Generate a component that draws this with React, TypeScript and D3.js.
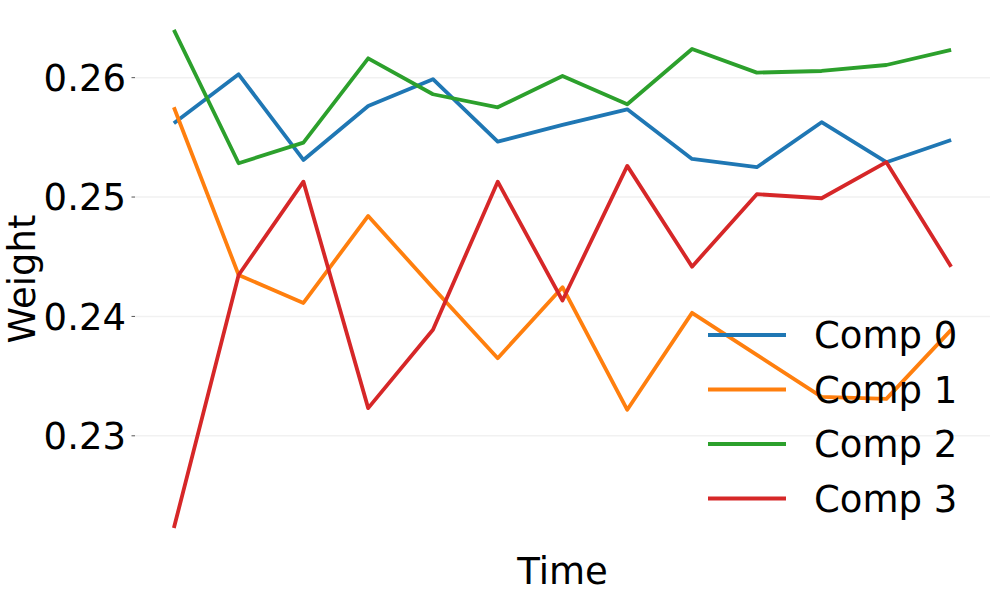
import React from "react";
import * as d3 from "d3";

// values, time steps 0..12
const timeSteps = d3.range(13);
const comp0 = [0.25618, 0.26028, 0.25311, 0.25763, 0.25987, 0.25464, 0.25604, 0.25735, 0.25319, 0.2525, 0.25627, 0.25292, 0.25478];
const comp1 = [0.25752, 0.24347, 0.24113, 0.24842, 0.2424, 0.2365, 0.24245, 0.23218, 0.2403, 0.23678, 0.23326, 0.23309, 0.23887];
const comp2 = [0.264, 0.25283, 0.25456, 0.26162, 0.25861, 0.25752, 0.26014, 0.25777, 0.2624, 0.26042, 0.26056, 0.26106, 0.26232];
const comp3 = [0.22227, 0.24347, 0.25129, 0.23232, 0.23888, 0.25129, 0.24133, 0.25261, 0.24417, 0.25024, 0.2499, 0.25292, 0.24417];
const seriesNames = ["Comp 0", "Comp 1", "Comp 2", "Comp 3"];
const yTicks = [0.23, 0.24, 0.25, 0.26];
const colors = ["#1f77b4", "#ff7f0e", "#2ca02c", "#d62728"];

const App = () => {
  const width = 996;
  const height = 598;
  const margin = { top: 5, right: 6, bottom: 45, left: 135 };
  const font = "DejaVu Sans, sans-serif";
  const fs = 37;

  const series = [comp0, comp1, comp2, comp3];
  const all = series.flat();
  const [yMin, yMax] = d3.extent(all) as [number, number];
  const yPad = (yMax - yMin) * 0.05;
  const xPad = (timeSteps.length - 1) * 0.05;

  const x = d3
    .scaleLinear()
    .domain([-xPad, timeSteps.length - 1 + xPad])
    .range([margin.left, width - margin.right]);
  const y = d3
    .scaleLinear()
    .domain([yMin - yPad, yMax + yPad])
    .range([height - margin.bottom, margin.top]);

  const line = d3
    .line<number>()
    .x((_, i) => x(timeSteps[i]))
    .y((d) => y(d));

  return (
    <svg
      width={width}
      height={height}
      style={{ position: "absolute", left: 0, top: 0, background: "#fff" }}
      fontFamily={font}
    >
      {/* grid + y ticks */}
      {yTicks.map((t) => (
        <g key={t}>
          <line x1={margin.left} x2={width - margin.right} y1={y(t)} y2={y(t)} stroke="#f1f1f1" strokeWidth={1.5} />
          <line x1={margin.left - 3.5} x2={margin.left} y1={y(t)} y2={y(t)} stroke="#555" strokeWidth={1} />
          <text x={margin.left - 9} y={y(t)} dy="0.36em" textAnchor="end" fontSize={fs} fill="#000">
            {t.toFixed(2)}
          </text>
        </g>
      ))}

      {series.map((s, i) => (
        <path key={i} d={line(s) || ""} fill="none" stroke={colors[i]} strokeWidth={3.8} strokeLinejoin="round" />
      ))}

      {/* legend */}
      {seriesNames.map((name, i) => (
        <g key={name} transform={`translate(708, ${335 + i * 54.5})`}>
          <line x1={0} x2={78} y1={0} y2={0} stroke={colors[i]} strokeWidth={3.8} />
          <text x={106} y={0} dy="0.36em" fontSize={fs} fill="#000">
            {name}
          </text>
        </g>
      ))}

      <text
        x={(margin.left + width - margin.right) / 2}
        y={584}
        textAnchor="middle"
        fontSize={fs}
        fill="#000"
      >
        Time
      </text>
      <text
        transform={`translate(35, ${(margin.top + height - margin.bottom) / 2}) rotate(-90)`}
        textAnchor="middle"
        fontSize={fs}
        fill="#000"
      >
        Weight
      </text>
    </svg>
  );
};

export default App;
